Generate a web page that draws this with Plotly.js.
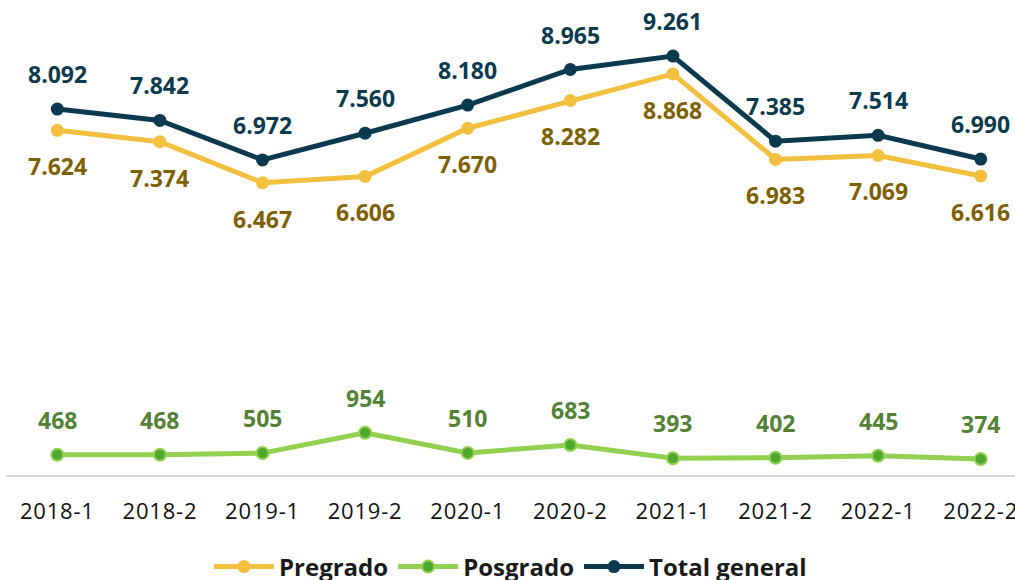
<!DOCTYPE html>
<html><head><meta charset="utf-8">
<script src="https://cdn.plot.ly/plotly-3.0.1.min.js"></script>
<style>body{margin:0;background:#fff;overflow:hidden}#c{width:1015px;height:600px}
.xtick text{letter-spacing:0.8px}</style>
</head><body><div id="c"></div>
<script>
var categories = ["2018-1","2018-2","2019-1","2019-2","2020-1","2020-2","2021-1","2021-2","2022-1","2022-2"];
var pregrado = [7624,7374,6467,6606,7670,8282,8868,6983,7069,6616];
var posgrado = [468,468,505,954,510,683,393,402,445,374];
var total = [8092,7842,6972,7560,8180,8965,9261,7385,7514,6990];

var FONT = "'Open Sans', Lato, sans-serif";
function fmt(v){ return String(v).replace(/\B(?=(\d{3})+(?!\d))/g, "."); }

var traces = [
  {name:"Pregrado", x:categories, y:pregrado, mode:"lines+markers", type:"scatter",
   line:{color:"#F2BF3F", width:5}, marker:{color:"#F2BF3F", size:13}},
  {name:"Posgrado", x:categories, y:posgrado, mode:"lines+markers", type:"scatter",
   line:{color:"#92D050", width:5}, marker:{color:"#4EA72E", size:12, line:{color:"#92D050", width:2}}},
  {name:"Total general", x:categories, y:total, mode:"lines+markers", type:"scatter",
   line:{color:"#0B3A4E", width:5}, marker:{color:"#0B3A4E", size:13}}
];

var ann = [];
function addLabels(vals, color, shift){
  vals.forEach(function(v,i){
    ann.push({x:categories[i], y:v, xref:"x", yref:"y", text:"<b>"+fmt(v)+"</b>", showarrow:false,
      yshift:shift, font:{family:FONT, size:23, color:color}});
  });
}
addLabels(total, "#0B3A4E", 35);
addLabels(pregrado, "#7F6000", -36);
addLabels(posgrado, "#548235", 35);

var layout = {
  width:1015, height:600,
  margin:{l:6, r:0, t:0, b:124},
  paper_bgcolor:"#fff", plot_bgcolor:"#fff",
  showlegend:true,
  legend:{orientation:"h", x:0.5, xanchor:"center", y:-91/476, yanchor:"middle",
    font:{family:FONT, size:24, color:"#1a1a1a", weight:"bold"}, itemwidth:60},
  xaxis:{type:"category", range:[-0.5, 9.334], showgrid:false, zeroline:false, automargin:false,
    showline:false, ticks:"", ticklabelstandoff:20, tickfont:{family:FONT, size:22, color:"#111"}, fixedrange:true},
  yaxis:{range:[0, 10498], showgrid:false, zeroline:true, zerolinecolor:"#d9d9d9", zerolinewidth:2,
    showticklabels:false, showline:false, fixedrange:true, automargin:false},
  annotations:ann
};
Plotly.newPlot("c", traces, layout, {displayModeBar:false, staticPlot:true});
</script></body></html>
